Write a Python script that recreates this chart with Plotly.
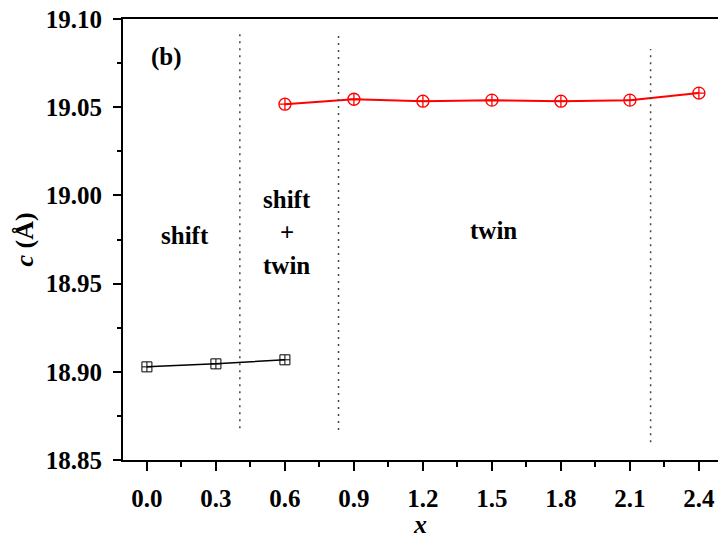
import plotly.graph_objects as go

# Data
x_shift = [0.0, 0.3, 0.6]
c_shift = [18.9028, 18.9045, 18.9068]
x_twin = [0.6, 0.9, 1.2, 1.5, 1.8, 2.1, 2.4]
c_twin = [19.0517, 19.0545, 19.0534, 19.0540, 19.0534, 19.0540, 19.0580]

# Region boundaries (dotted lines): x, y_bottom, y_top
bound_x = [0.404, 0.833, 2.19]
bound_y0 = [18.868, 18.867, 18.860]
bound_y1 = [19.092, 19.0915, 19.083]

# Region labels
label_text = ["(b)", "shift", "shift", "+", "twin", "twin"]
label_x = [0.083, 0.165, 0.609, 0.609, 0.609, 1.509]
label_y = [19.0785, 18.977, 18.9975, 18.979, 18.9605, 18.980]

FONT = "Liberation Serif, Times New Roman, serif"

fig = go.Figure()
fig.add_trace(go.Scatter(
    x=x_shift, y=c_shift, mode="lines+markers",
    line=dict(color="black", width=1.5),
    marker=dict(symbol="square-cross-open", size=10,
                color="black", line=dict(width=1, color="black")),
    showlegend=False))
fig.add_trace(go.Scatter(
    x=x_twin, y=c_twin, mode="lines+markers",
    line=dict(color="red", width=2),
    marker=dict(symbol="circle-cross-open", size=12,
                color="red", line=dict(width=1.3, color="red")),
    showlegend=False))

for bx, y0, y1 in zip(bound_x, bound_y0, bound_y1):
    fig.add_shape(type="line", x0=bx, x1=bx, y0=y0, y1=y1, xref="x", yref="y",
                  line=dict(color="#444444", width=1.5, dash="2px,5px"))

for t, lx, ly in zip(label_text, label_x, label_y):
    fig.add_annotation(x=lx, y=ly, text=t, showarrow=False, xref="x", yref="y",
                       font=dict(family=FONT, size=25, color="black", weight="bold"))

fig.update_layout(
    width=718, height=539,
    margin=dict(l=123, r=0, t=19, b=79),
    plot_bgcolor="white", paper_bgcolor="white",
    font=dict(family=FONT, color="black", size=25, weight="bold"),
    xaxis=dict(
        range=[-0.104, 2.483], tickvals=[0.0, 0.3, 0.6, 0.9, 1.2, 1.5, 1.8, 2.1, 2.4],
        tickformat=".1f", ticks="outside", ticklen=9, tickwidth=2, tickcolor="black",
        showline=True, linewidth=2, linecolor="black", mirror=True,
        showgrid=False, zeroline=False, ticklabelstandoff=6,
        tickfont=dict(family=FONT, size=25, weight="bold"),
        minor=dict(dtick=0.15, tick0=0, ticks="outside", ticklen=5, tickwidth=1.5, tickcolor="black"),
        title=dict(text="<i>x</i>", font=dict(family=FONT, size=26, weight="bold"), standoff=8),
    ),
    yaxis=dict(
        range=[18.85, 19.10], tickvals=[18.85, 18.90, 18.95, 19.00, 19.05, 19.10],
        tickformat=".2f", ticks="outside", ticklen=8, tickwidth=2, tickcolor="black",
        showline=True, linewidth=2, linecolor="black", mirror=False,
        showgrid=False, zeroline=False, ticklabelstandoff=6,
        tickfont=dict(family=FONT, size=25, weight="bold"),
        minor=dict(dtick=0.025, tick0=18.85, ticks="outside", ticklen=4, tickwidth=1.5, tickcolor="black"),
        title=dict(text="<i>c</i> (Å)", font=dict(family=FONT, size=26, weight="bold"), standoff=5),
    ),
)

fig.write_html("out.html")
